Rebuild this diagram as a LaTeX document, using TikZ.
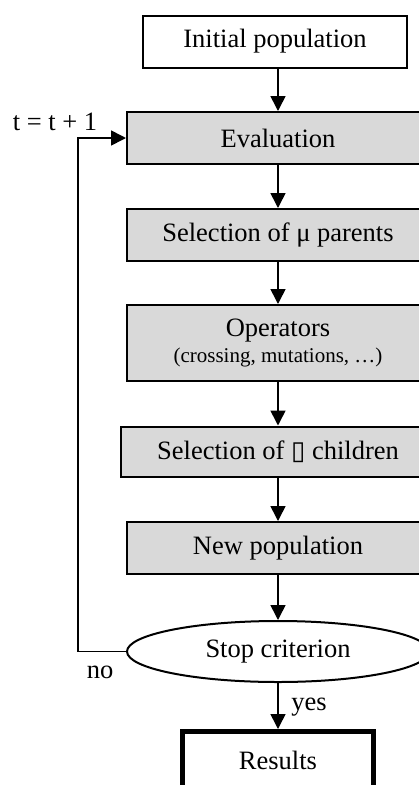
\documentclass[tikz,border=0pt]{standalone}
\usepackage{fontspec}
\setmainfont{Liberation Serif}
\newfontfamily\symfont{DejaVu Sans}
\usetikzlibrary{arrows.meta,shapes.geometric}
\definecolor{boxgray}{RGB}{217,217,217}
\begin{document}
\begin{tikzpicture}[x=1pt,y=-1pt,
  every node/.append style={font=\fontsize{26.5}{30}\selectfont, text=black, inner sep=0pt},
  plainbox/.style={rectangle,draw,line width=2pt,minimum height=52pt},
  graybox/.style={plainbox,fill=boxgray,minimum width=302pt},
  flow/.style={-{Triangle[length=15pt,width=15pt]},line width=1.6pt}]
\useasboundingbox (0,0) rectangle (419,785);
\clip (0,0) rectangle (419,785);
% boxes
\node[plainbox,minimum width=264pt] (init) at (275,41.5) {Initial population};
\node[graybox] (eval) at (278,138) {Evaluation};
\node[graybox] (selpar) at (278,235) {Selection of μ parents};
\node[graybox,minimum height=76pt,align=center] (ops) at (278,343)
  {Operators\\[-4pt]{\fontsize{21}{24}\selectfont (crossing, mutations, …)}};
\node[graybox,minimum width=314pt,minimum height=50pt] (selchild) at (278,451.5)
  {Selection of {\symfont\fontsize{26}{30}\selectfont ▯} children};
\node[graybox] (newpop) at (278,548) {New population};
\node[ellipse,draw,line width=2pt,fill=white,minimum width=302pt,minimum height=61pt] (stop) at (278,651.5) {Stop criterion};
\node[rectangle,draw,line width=5pt,minimum width=191pt,minimum height=57pt] (res) at (278,760) {Results};
% labels
\node (tlabel) at (55,122) {t = t + 1};
\node (nolabel) at (100,672) {no};
\node (yeslabel) at (309,707) {yes};
% arrows
\draw[flow] (eval.north |- init.south) -- (eval.north);
\draw[flow] (eval) -- (selpar);
\draw[flow] (selpar) -- (ops);
\draw[flow] (ops) -- (selchild);
\draw[flow] (selchild) -- (newpop);
\draw[flow] (newpop) -- (stop);
\draw[flow] (stop) -- (res);
\draw[flow] (stop.west) -- ++(-48,0) |- (eval.west);
\end{tikzpicture}
\end{document}
